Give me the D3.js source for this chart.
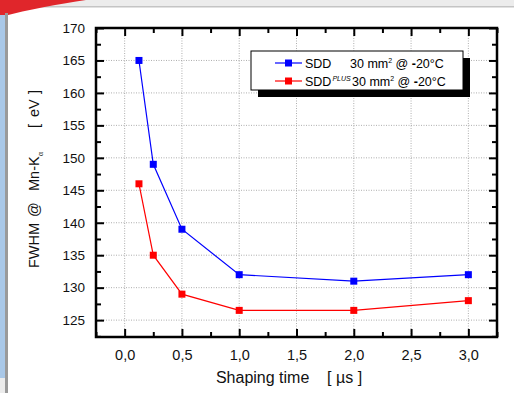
<!DOCTYPE html>
<html>
<head>
<meta charset="utf-8">
<script src="https://cdn.jsdelivr.net/npm/d3@7"></script>
<style>
    body { margin: 0; background: #fff; }
    svg { display: block; font-family: Arial, "Liberation Sans", sans-serif; }
    .grid line { stroke: #999; stroke-dasharray: 1,1.5; stroke-width: 0.8; }
</style>
</head>
<body>
<svg id="chart" width="514" height="393"></svg>
<script>
// shaping times in microseconds
const shapingTimes = [0.125, 0.25, 0.5, 1.0, 2.0, 3.0];
// FWHM @ Mn-Ka in eV
const sddValues = [165, 149, 139, 132, 131, 132];
const sddPlusValues = [146, 135, 129, 126.5, 126.5, 128];

const xTicks = [0, 0.5, 1.0, 1.5, 2.0, 2.5, 3.0];
const yTicks = [125, 130, 135, 140, 145, 150, 155, 160, 165, 170];

const WIDTH = 514, HEIGHT = 393;
const plot = { left: 96, right: 497, top: 28, bottom: 337 };

const svg = d3.select("#chart");

// slide decorations behind the chart
svg.append("rect").attr("x", 0).attr("y", 0).attr("width", WIDTH).attr("height", 7).attr("fill", "#ececec");
svg.append("rect").attr("x", 0).attr("y", 6).attr("width", WIDTH).attr("height", 1.5).attr("fill", "#c4c4c4");
svg.append("path")
    .attr("d", "M0,0 L86,0 C60,4 30,9 0,17 Z")
    .attr("fill", "#e0262b");
svg.append("rect").attr("x", 0).attr("y", 15).attr("width", 5).attr("height", 363).attr("fill", "#a9c8e8");
svg.append("rect").attr("x", 5).attr("y", 13).attr("width", 3).attr("height", 380).attr("fill", "#9a9a9a");
svg.append("rect").attr("x", 0).attr("y", 378).attr("width", 5).attr("height", 15).attr("fill", "#ececec");

const x = d3.scaleLinear().domain([-0.25, 3.25]).range([plot.left, plot.right]);
const y = d3.scaleLinear().domain([122.4, 170]).range([plot.bottom, plot.top]);

// dotted grid at major ticks
const grid = svg.append("g").attr("class", "grid");
grid.selectAll(".gx").data(xTicks).enter().append("line")
    .attr("x1", d => x(d)).attr("x2", d => x(d))
    .attr("y1", plot.top).attr("y2", plot.bottom);
grid.selectAll(".gy").data(yTicks).enter().append("line")
    .attr("x1", plot.left).attr("x2", plot.right)
    .attr("y1", d => y(d)).attr("y2", d => y(d));

// inward ticks on all four sides
const xMinor = d3.range(-0.25, 3.26, 0.25).filter(v => Math.abs(v * 2 - Math.round(v * 2)) > 0.01);
const yMinor = d3.range(122.5, 170, 2.5).filter(v => v % 5 !== 0);

function drawAxes() {
    const fmt = d => d3.format(".1f")(d).replace(".", ",");
    svg.append("g").attr("class", "xlab").attr("transform", `translate(0,${plot.bottom})`)
        .call(d3.axisBottom(x).tickValues(xTicks).tickSize(-8).tickFormat(fmt).tickPadding(13))
        .call(g => g.select(".domain").remove());
    svg.append("g").attr("transform", `translate(0,${plot.bottom})`)
        .call(d3.axisBottom(x).tickValues(xMinor).tickSize(-5).tickFormat(""))
        .call(g => g.select(".domain").remove());
    svg.append("g").attr("transform", `translate(0,${plot.top})`)
        .call(d3.axisTop(x).tickValues(xTicks).tickSize(-8).tickFormat(""))
        .call(g => g.select(".domain").remove());
    svg.append("g").attr("transform", `translate(0,${plot.top})`)
        .call(d3.axisTop(x).tickValues(xMinor).tickSize(-5).tickFormat(""))
        .call(g => g.select(".domain").remove());

    svg.append("g").attr("transform", `translate(${plot.left},0)`)
        .call(d3.axisLeft(y).tickValues(yTicks).tickSize(-8).tickFormat(d3.format("d")).tickPadding(11))
        .call(g => g.select(".domain").remove());
    svg.append("g").attr("transform", `translate(${plot.left},0)`)
        .call(d3.axisLeft(y).tickValues(yMinor).tickSize(-5).tickFormat(""))
        .call(g => g.select(".domain").remove());
    svg.append("g").attr("transform", `translate(${plot.right},0)`)
        .call(d3.axisRight(y).tickValues(yTicks).tickSize(-8).tickFormat(""))
        .call(g => g.select(".domain").remove());
    svg.append("g").attr("transform", `translate(${plot.right},0)`)
        .call(d3.axisRight(y).tickValues(yMinor).tickSize(-5).tickFormat(""))
        .call(g => g.select(".domain").remove());

    svg.selectAll(".tick line").attr("stroke", "#000").attr("stroke-width", 2);
    svg.selectAll(".tick text").attr("font-size", 13.5).attr("fill", "#111")
        .attr("font-family", "Arial, 'Liberation Sans', sans-serif");
    svg.selectAll(".xlab .tick text").attr("font-size", 14.5);
}
drawAxes();

// frame
svg.append("rect")
    .attr("x", plot.left).attr("y", plot.top)
    .attr("width", plot.right - plot.left).attr("height", plot.bottom - plot.top)
    .attr("fill", "none").attr("stroke", "#000").attr("stroke-width", 2.5);

// series
const series = [
    { name: "SDD", values: sddValues, color: "#0000ff" },
    { name: "SDDPLUS", values: sddPlusValues, color: "#ff0000" }
];
const line = d3.line().x(d => x(d[0])).y(d => y(d[1]));
series.forEach(s => {
    const pts = shapingTimes.map((t, i) => [t, s.values[i]]);
    svg.append("path").datum(pts)
        .attr("d", line).attr("fill", "none")
        .attr("stroke", s.color).attr("stroke-width", 1.2);
    svg.selectAll(null).data(pts).enter().append("rect")
        .attr("x", d => x(d[0]) - 3.5).attr("y", d => y(d[1]) - 3.5)
        .attr("width", 7).attr("height", 7)
        .attr("fill", s.color);
});

// legend with drop shadow
const lg = { x: 251, y: 51, w: 212, h: 39 };
svg.append("rect").attr("x", lg.x + 7).attr("y", lg.y + 7)
    .attr("width", lg.w).attr("height", lg.h).attr("fill", "#000");
svg.append("rect").attr("x", lg.x).attr("y", lg.y)
    .attr("width", lg.w).attr("height", lg.h)
    .attr("fill", "#fff").attr("stroke", "#000").attr("stroke-width", 1);

const rows = [63, 81];
series.forEach((s, i) => {
    const yy = rows[i];
    svg.append("line").attr("x1", 275).attr("x2", 302).attr("y1", yy).attr("y2", yy)
        .attr("stroke", s.color).attr("stroke-width", 1.2);
    svg.append("rect").attr("x", 285).attr("y", yy - 3.5).attr("width", 7).attr("height", 7)
        .attr("fill", s.color);
    const t = svg.append("text").attr("x", 305).attr("y", yy + 4.5)
        .attr("font-size", 12.5).attr("fill", "#000");
    t.append("tspan").text("SDD");
    if (i === 1) {
        t.append("tspan").attr("dy", -5).attr("dx", 1).attr("font-size", 7).attr("font-style", "italic").text("PLUS");
    }
    const t2 = svg.append("text").attr("x", i === 0 ? 350 : 352).attr("y", yy + 4.5)
        .attr("font-size", 12.5).attr("fill", "#000");
    t2.append("tspan").text("30 mm");
    t2.append("tspan").attr("dy", -5).attr("font-size", 7).text("2");
    t2.append("tspan").attr("dy", 5).text(" @ ");
    t2.append("tspan").attr("font-weight", "bold").text("-");
    t2.append("tspan").text("20°C");
});

// axis titles
svg.append("text")
    .attr("x", 289).attr("y", 383)
    .attr("text-anchor", "middle").attr("font-size", 16).attr("fill", "#111")
    .attr("xml:space", "preserve")
    .text("Shaping time    [ µs ]");

// y title: pieces placed along the rotated baseline, as spaced in the picture
const yl = svg.append("text")
    .attr("transform", "translate(39,268) rotate(-90)")
    .attr("font-size", 14.5).attr("fill", "#111");
yl.append("tspan").attr("x", 0).text("FWHM");
yl.append("tspan").attr("x", 51).text("@");
yl.append("tspan").attr("x", 77).text("Mn-K");
yl.append("tspan").attr("x", 112).attr("dy", 4).attr("font-size", 7).text("α");
yl.append("tspan").attr("x", 140).attr("dy", -4).text("[");
yl.append("tspan").attr("x", 151).text("eV");
yl.append("tspan").attr("x", 174).text("]");
</script>
</body>
</html>
